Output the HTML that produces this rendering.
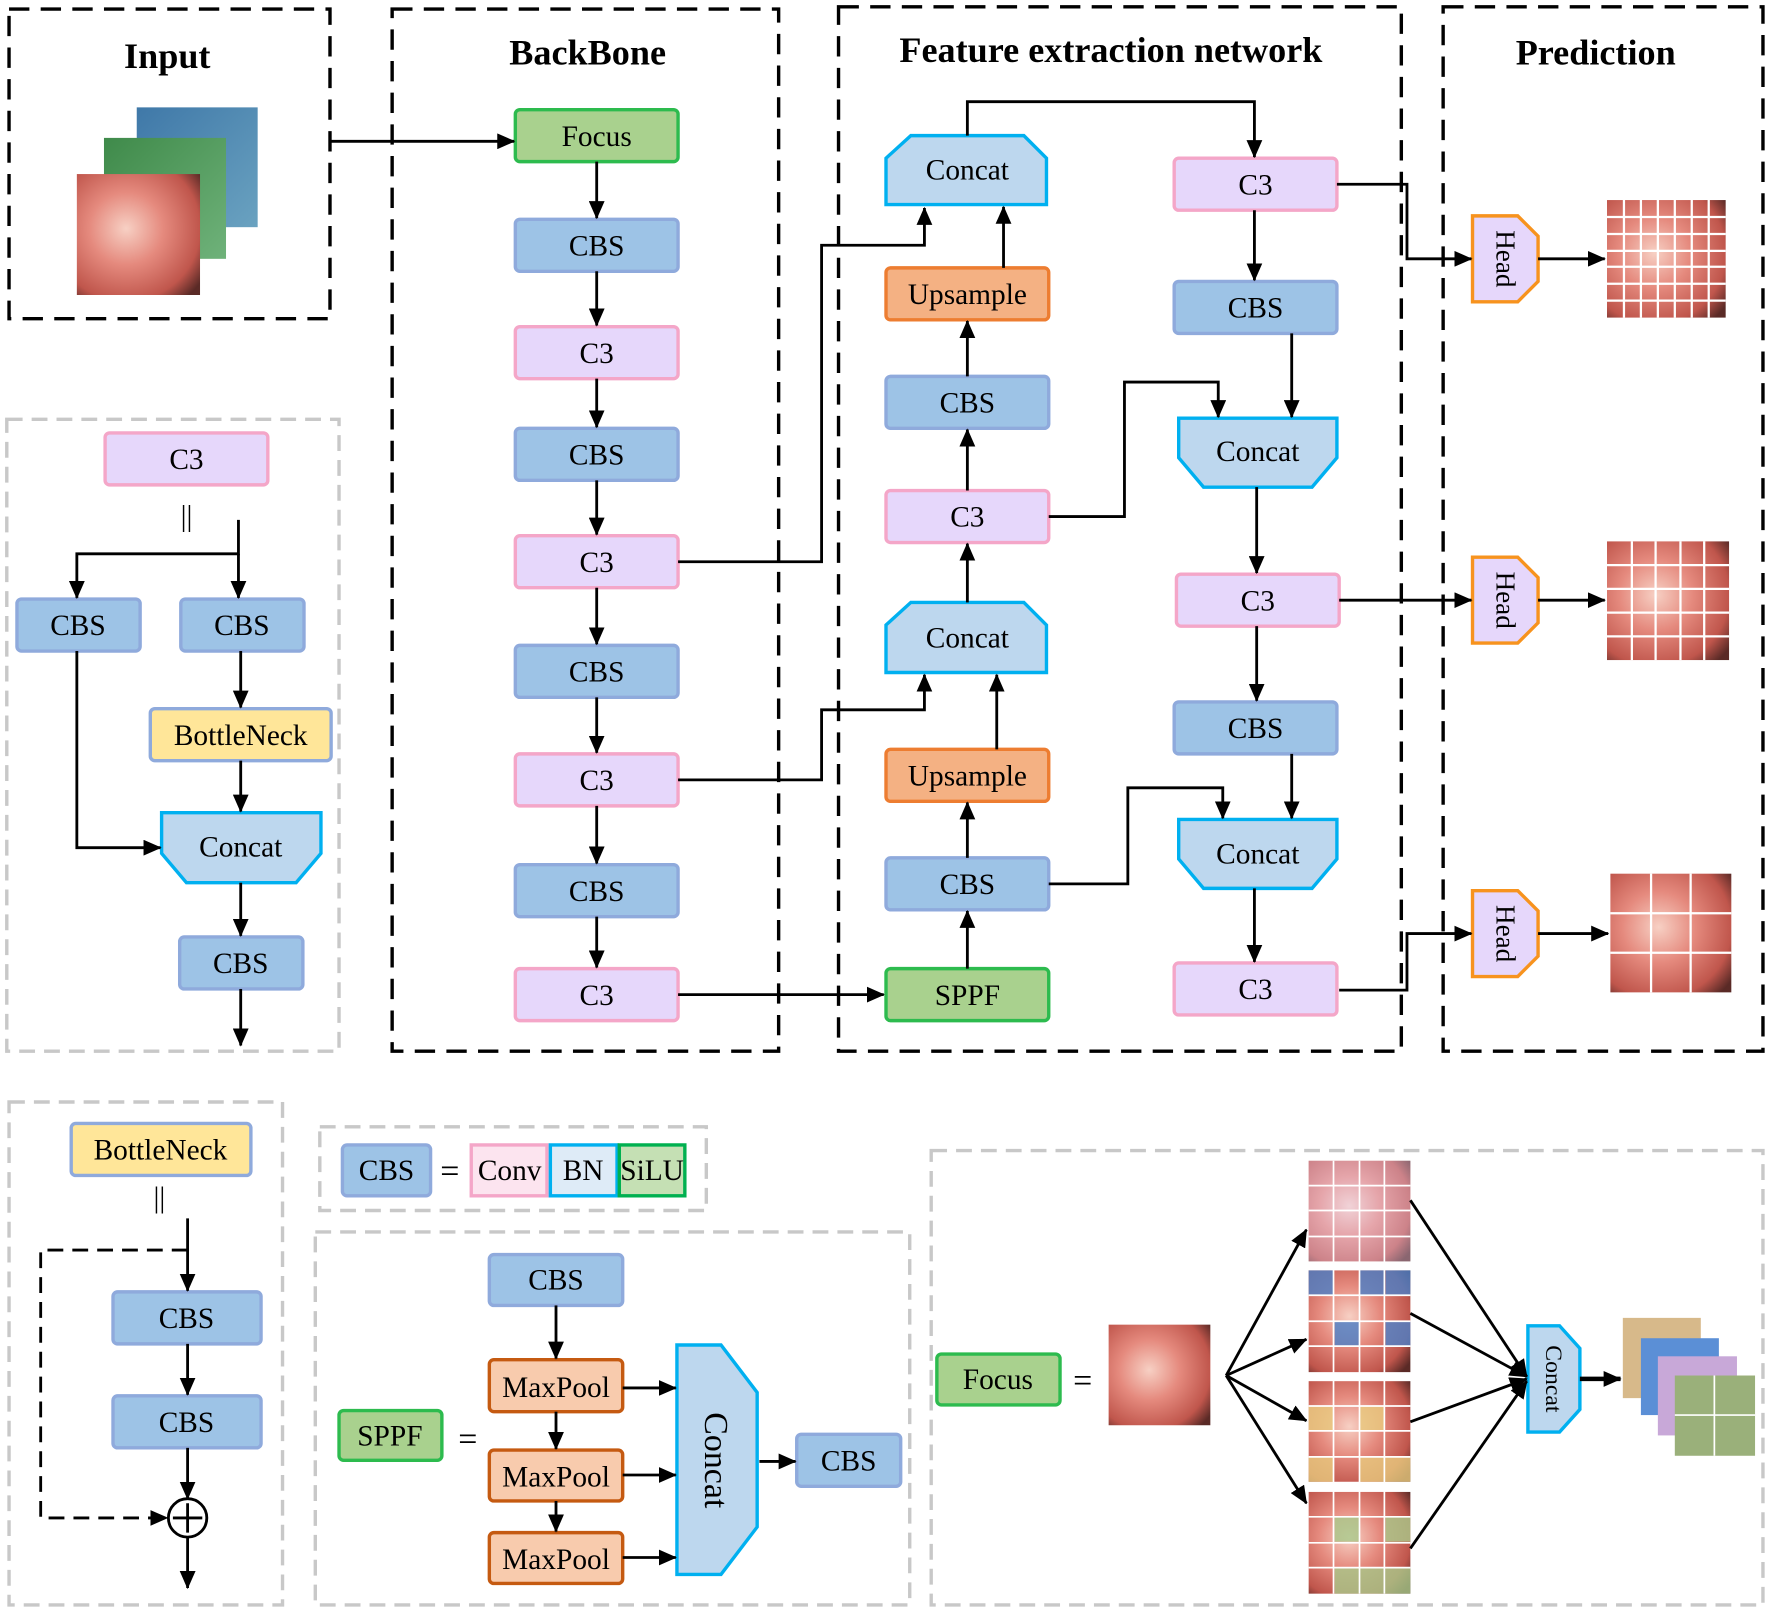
<!DOCTYPE html>
<html><head><meta charset="utf-8"><style>html,body{margin:0;padding:0;background:#fff}svg{display:block}text{font-family:"Liberation Serif",serif}</style></head><body>
<svg width="1772" height="1614" viewBox="0 0 1568 1428" preserveAspectRatio="none" xmlns="http://www.w3.org/2000/svg">
<defs>
<marker id="a" markerUnits="userSpaceOnUse" markerWidth="16" markerHeight="14" refX="15" refY="7" orient="auto"><path d="M0,0 L16,7 L0,14 z" fill="#000"/></marker>
<radialGradient id="endo" cx="0.4" cy="0.45" r="0.75"><stop offset="0" stop-color="#f7d0c4"/><stop offset="0.4" stop-color="#e58a7e"/><stop offset="0.8" stop-color="#c0564c"/><stop offset="1" stop-color="#5a2a26"/></radialGradient>
<linearGradient id="blu" x1="0" y1="0" x2="1" y2="1"><stop offset="0" stop-color="#3f78a8"/><stop offset="1" stop-color="#6aa2c0"/></linearGradient>
<linearGradient id="grn" x1="0" y1="0" x2="1" y2="1"><stop offset="0" stop-color="#3f8a4a"/><stop offset="1" stop-color="#6fb27a"/></linearGradient>
</defs>
<g fill="none" stroke="#000" stroke-width="3" stroke-dasharray="18 10">
<rect x="8" y="8" width="284" height="274"/><rect x="347" y="8" width="342" height="922"/><rect x="742" y="6" width="498" height="924"/><rect x="1277" y="6" width="283" height="924"/>
</g>
<g fill="none" stroke="#c8c8c8" stroke-width="3" stroke-dasharray="14 8">
<rect x="6" y="371" width="294" height="559"/><rect x="8" y="975" width="242" height="445"/><rect x="283" y="997" width="342" height="74"/><rect x="279" y="1090" width="526" height="330"/><rect x="824" y="1018" width="736" height="402"/>
</g>
<g font-weight="bold" font-size="32" text-anchor="middle"><text x="148" y="60">Input</text><text x="520" y="57">BackBone</text><text x="983" y="55">Feature extraction network</text><text x="1412" y="57">Prediction</text></g>
<rect x="121" y="95" width="107" height="106" fill="url(#blu)"/><rect x="92" y="122" width="108" height="107" fill="url(#grn)"/><rect x="68" y="154" width="109" height="107" fill="url(#endo)"/>
<g stroke-width="3" font-size="26" text-anchor="middle">
<g fill="#a9d18e" stroke="#2dbb4e"><rect x="456" y="97" width="144" height="46" rx="4"/><rect x="784" y="857" width="144" height="46" rx="4"/><rect x="300" y="1248" width="91" height="44" rx="4"/><rect x="829" y="1198" width="109" height="45" rx="4"/></g>
<g fill="#9dc3e6" stroke="#8faadc">
<rect x="456" y="194" width="144" height="46" rx="4"/><rect x="456" y="379" width="144" height="46" rx="4"/><rect x="456" y="571" width="144" height="46" rx="4"/><rect x="456" y="765" width="144" height="46" rx="4"/>
<rect x="784" y="333" width="144" height="46" rx="4"/><rect x="784" y="759" width="144" height="46" rx="4"/>
<rect x="1039" y="249" width="144" height="46" rx="4"/><rect x="1039" y="621" width="144" height="46" rx="4"/>
<rect x="15" y="530" width="109" height="46" rx="4"/><rect x="160" y="530" width="109" height="46" rx="4"/><rect x="159" y="829" width="109" height="46" rx="4"/>
<rect x="100" y="1143" width="131" height="46" rx="4"/><rect x="100" y="1235" width="131" height="46" rx="4"/>
<rect x="303" y="1013" width="78" height="45" rx="4"/><rect x="433" y="1110" width="118" height="45" rx="4"/><rect x="705" y="1269" width="92" height="46" rx="4"/>
</g>
<g fill="#e6d7fb" stroke="#f4a6c8">
<rect x="456" y="289" width="144" height="46" rx="4"/><rect x="456" y="474" width="144" height="46" rx="4"/><rect x="456" y="667" width="144" height="46" rx="4"/><rect x="456" y="857" width="144" height="46" rx="4"/>
<rect x="784" y="434" width="144" height="46" rx="4"/>
<rect x="1039" y="140" width="144" height="46" rx="4"/><rect x="1041" y="508" width="144" height="46" rx="4"/><rect x="1039" y="852" width="144" height="46" rx="4"/>
<rect x="93" y="383" width="144" height="46" rx="4"/>
</g>
<g fill="#f4b183" stroke="#ed7d31"><rect x="784" y="237" width="144" height="46" rx="4"/><rect x="784" y="663" width="144" height="46" rx="4"/></g>
<g fill="#f8cbad" stroke="#c55a11"><rect x="433" y="1203" width="118" height="46" rx="4"/><rect x="433" y="1283" width="118" height="45" rx="4"/><rect x="433" y="1356" width="118" height="45" rx="4"/></g>
<g fill="#ffe699" stroke="#8faadc"><rect x="133" y="627" width="160" height="46" rx="4"/><rect x="63" y="994" width="159" height="46" rx="4"/></g>
<rect x="417" y="1013" width="67" height="45" fill="#fce4ef" stroke="#f4a6c8"/><rect x="487" y="1013" width="59" height="45" fill="#deebf7" stroke="#00b0f0"/><rect x="548" y="1013" width="58" height="45" fill="#c5e0b4" stroke="#00b050"/>
<g fill="#bdd7ee" stroke="#00b0f0">
<polygon points="806,120 906,120 926,140 926,181 784,181 784,140"/><polygon points="806,533 906,533 926,553 926,595 784,595 784,553"/>
<polygon points="1043,370 1183,370 1183,405 1161,431 1065,431 1043,405"/><polygon points="1043,725 1183,725 1183,760 1161,786 1065,786 1043,760"/>
<polygon points="143,719 284,719 284,755 262,781 165,781 143,755"/>
<polygon points="599,1190 638,1190 670,1232 670,1351 638,1393 599,1393"/>
<polygon points="1352,1173 1380,1173 1398,1193 1398,1247 1380,1267 1352,1267"/>
</g>
<g fill="#e6d7fb" stroke="#f7931e">
<polygon points="1303,191 1343,191 1361,209 1361,249 1343,267 1303,267"/><polygon points="1303,493 1343,493 1361,511 1361,551 1343,569 1303,569"/><polygon points="1303,788 1343,788 1361,806 1361,846 1343,864 1303,864"/>
</g>
<g stroke="none" fill="#000">
<text x="528" y="129">Focus</text><text x="528" y="226">CBS</text><text x="528" y="321">C3</text><text x="528" y="411">CBS</text><text x="528" y="506">C3</text><text x="528" y="603">CBS</text><text x="528" y="699">C3</text><text x="528" y="797">CBS</text><text x="528" y="889">C3</text>
<text x="856" y="159">Concat</text><text x="856" y="269">Upsample</text><text x="856" y="365">CBS</text><text x="856" y="466">C3</text><text x="856" y="573">Concat</text><text x="856" y="695">Upsample</text><text x="856" y="791">CBS</text><text x="856" y="889">SPPF</text>
<text x="1111" y="172">C3</text><text x="1111" y="281">CBS</text><text x="1113" y="408">Concat</text><text x="1113" y="540">C3</text><text x="1111" y="653">CBS</text><text x="1113" y="764">Concat</text><text x="1111" y="884">C3</text>
<text x="165" y="415">C3</text><text x="69" y="562">CBS</text><text x="214" y="562">CBS</text><text x="213" y="659">BottleNeck</text><text x="213" y="758">Concat</text><text x="213" y="861">CBS</text>
<text x="142" y="1026">BottleNeck</text><text x="165" y="1175">CBS</text><text x="165" y="1267">CBS</text>
<text x="342" y="1044">CBS</text><text x="398" y="1046" font-size="30">=</text><text x="451" y="1044">Conv</text><text x="516" y="1044">BN</text><text x="577" y="1044">SiLU</text>
<text x="345" y="1279">SPPF</text><text x="414" y="1283" font-size="30">=</text><text x="492" y="1141">CBS</text><text x="492" y="1236">MaxPool</text><text x="492" y="1315">MaxPool</text><text x="492" y="1388">MaxPool</text><text x="751" y="1301">CBS</text>
<text x="883" y="1229">Focus</text><text x="958" y="1231" font-size="30">=</text>
<text x="165" y="465" font-size="26">||</text><text x="141" y="1068" font-size="26">||</text>
<text transform="translate(624,1292) rotate(90)" font-size="30">Concat</text>
<text transform="translate(1368,1220) rotate(90)" font-size="21">Concat</text>
<text transform="translate(1324,229) rotate(90)" font-size="24">Head</text><text transform="translate(1324,531) rotate(90)" font-size="24">Head</text><text transform="translate(1324,826) rotate(90)" font-size="24">Head</text>
</g>
</g>
<rect x="1422" y="177" width="105" height="104" fill="url(#endo)"/><path d="M1437,177V281M1452,177V281M1467,177V281M1482,177V281M1497,177V281M1512,177V281M1422,192H1527M1422,207H1527M1422,222H1527M1422,236H1527M1422,251H1527M1422,266H1527" stroke="#fff" stroke-width="2"/>
<rect x="1422" y="479" width="108" height="105" fill="url(#endo)"/><path d="M1444,479V584M1465,479V584M1487,479V584M1508,479V584M1422,500H1530M1422,521H1530M1422,542H1530M1422,563H1530" stroke="#fff" stroke-width="2"/>
<rect x="1425" y="773" width="107" height="105" fill="url(#endo)"/><path d="M1461,773V878M1496,773V878M1425,808H1532M1425,843H1532" stroke="#fff" stroke-width="2"/>
<rect x="981" y="1172" width="90" height="89" fill="url(#endo)"/>
<g>
<rect x="1158" y="1027" width="90" height="89" fill="url(#endo)"/><rect x="1158" y="1027" width="90" height="89" fill="#e6d7fb" opacity="0.35"/>
<rect x="1158" y="1124" width="90" height="90" fill="url(#endo)"/><rect x="1158" y="1124" width="22" height="22" fill="#4a7fc8" opacity="0.8"/><rect x="1203" y="1124" width="22" height="22" fill="#4a7fc8" opacity="0.8"/><rect x="1226" y="1124" width="22" height="22" fill="#4a7fc8" opacity="0.8"/><rect x="1181" y="1169" width="22" height="22" fill="#4a7fc8" opacity="0.8"/><rect x="1226" y="1169" width="22" height="22" fill="#4a7fc8" opacity="0.8"/>
<rect x="1158" y="1222" width="90" height="89" fill="url(#endo)"/><rect x="1158" y="1244" width="22" height="22" fill="#e8cc80" opacity="0.8"/><rect x="1203" y="1244" width="22" height="22" fill="#e8cc80" opacity="0.8"/><rect x="1158" y="1289" width="22" height="22" fill="#e8cc80" opacity="0.8"/><rect x="1203" y="1289" width="45" height="22" fill="#e8cc80" opacity="0.8"/>
<rect x="1158" y="1320" width="90" height="90" fill="url(#endo)"/><rect x="1181" y="1342" width="22" height="22" fill="#a8c88a" opacity="0.8"/><rect x="1226" y="1342" width="22" height="22" fill="#a8c88a" opacity="0.8"/><rect x="1181" y="1387" width="67" height="23" fill="#a8c88a" opacity="0.8"/>
<path d="M1180,1027V1410M1203,1027V1410M1225,1027V1410M1158,1049H1248M1158,1071H1248M1158,1094H1248M1158,1146H1248M1158,1169H1248M1158,1191H1248M1158,1244H1248M1158,1266H1248M1158,1289H1248M1158,1342H1248M1158,1365H1248M1158,1387H1248" stroke="#fff" stroke-width="1.5"/>
</g>
<rect x="1436" y="1166" width="69" height="71" fill="#d7b98a"/><rect x="1452" y="1184" width="69" height="68" fill="#5b8fd6"/><rect x="1467" y="1200" width="70" height="70" fill="#c8a8d8"/><rect x="1482" y="1217" width="71" height="71" fill="#9ab07a"/>
<path d="M1517,1217V1288M1482,1252H1553" stroke="#fff" stroke-width="1.5"/>
<g fill="none" stroke="#000" stroke-width="2.5" marker-end="url(#a)">
<path d="M292,125H455"/>
<path d="M528,143V193"/><path d="M528,240V288"/><path d="M528,335V378"/><path d="M528,425V473"/><path d="M528,520V570"/><path d="M528,617V666"/><path d="M528,713V764"/><path d="M528,811V856"/>
<path d="M600,497H727V217H818V184"/><path d="M600,690H727V628H818V597"/><path d="M600,880H782"/>
<path d="M856,857V806"/><path d="M856,759V710"/><path d="M882,663V597"/><path d="M856,533V481"/><path d="M856,434V380"/><path d="M856,333V284"/><path d="M888,237V183"/>
<path d="M856,120V90H1110V139"/>
<path d="M1110,186V248"/><path d="M1143,295V369"/><path d="M928,457H995V338H1078V369"/><path d="M1112,431V507"/><path d="M1112,554V620"/><path d="M1143,667V724"/><path d="M928,782H998V697H1082V724"/><path d="M1110,786V851"/>
<path d="M1183,163H1245V229H1302"/><path d="M1185,531H1302"/><path d="M1185,876H1245V826H1302"/>
<path d="M1361,229H1420"/><path d="M1361,531H1420"/><path d="M1361,826H1423"/>
<path d="M211,460V490H68V529"/><path d="M211,490V529"/><path d="M213,576V626"/><path d="M213,673V718"/><path d="M68,576V750H142"/><path d="M213,781V828"/><path d="M213,875V925"/>
<path d="M166,1078V1142"/><path d="M166,1189V1234"/><path d="M166,1281V1326"/><path d="M166,1360V1405"/>
<path d="M492,1155V1202"/><path d="M492,1249V1282"/><path d="M492,1328V1355"/><path d="M551,1228H598"/><path d="M551,1305H598"/><path d="M551,1378H598"/><path d="M672,1293H704"/>
<path d="M1085,1217L1156,1088"/><path d="M1085,1217L1156,1185"/><path d="M1085,1217L1156,1257"/><path d="M1085,1217L1156,1330"/>
<path d="M1248,1062L1351,1218"/><path d="M1248,1162L1351,1218"/><path d="M1248,1258L1351,1220"/><path d="M1248,1370L1351,1222"/>
<path d="M1398,1220H1434" stroke-width="4"/>
<path d="M166,1106H36V1343H148" stroke-dasharray="14 8"/>
</g>
<circle cx="166" cy="1343" r="17" fill="#fff" stroke="#000" stroke-width="2.5"/><path d="M166,1330V1356M153,1343H179" stroke="#000" stroke-width="2.5"/>
</svg>
</body></html>
